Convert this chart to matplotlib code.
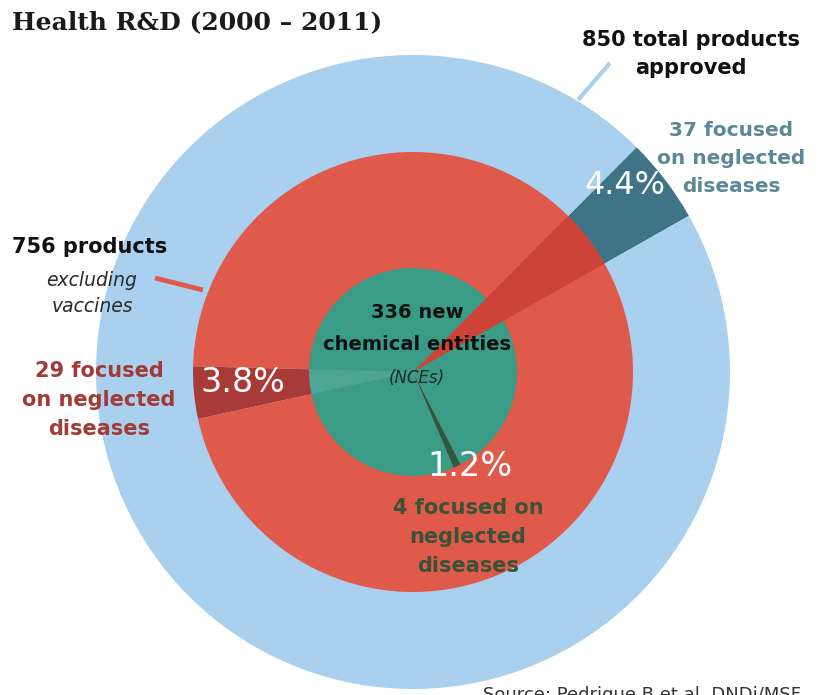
import matplotlib.pyplot as plt
from matplotlib.patches import Wedge

# data
ring_names = ["total products approved", "products excluding vaccines", "new chemical entities"]
totals = [850, 756, 336]
neglected = [37, 29, 4]

# where each "neglected" slice starts (degrees, counterclockwise from 3 o'clock)
start_angles = [29.5, 178.5, 293.0]
radii = [317, 220, 104]
base_colors = ["#a9d0ef", "#e05a4b", "#3a9b86"]
slice_colors = ["#3e7486", "#a83a37", "#2c5a40"]

W, H = 839, 695
fig = plt.figure(figsize=(W / 100, H / 100), dpi=100)
ax = fig.add_axes([0, 0, 1, 1])

cx, cy = 413, H - 372  # centre of the rings, pixel coords with y up

for tot, neg, r, st, c0, c1 in zip(totals, neglected, radii, start_angles, base_colors, slice_colors):
    ax.pie([neg, tot - neg], radius=r, center=(cx, cy), startangle=st,
           colors=[c1, c0], wedgeprops=dict(linewidth=0), frame=True)
    # the outer 4.4% sector also darkens the red disc behind it
    if r == radii[0]:
        th2 = st + 360.0 * neg / tot
        ax.add_patch(Wedge((cx, cy), radii[1], st, th2, color="#cd4337", lw=0, zorder=3))

# faint lighter streak of the 3.8% sector through the green disc
th_a = start_angles[1]
th_b = th_a + 360.0 * neglected[1] / totals[1]
ax.add_patch(Wedge((cx, cy), radii[2], th_a, th_b, color="white", alpha=0.10, lw=0, zorder=4))

ax.set_xlim(0, W)
ax.set_ylim(0, H)
ax.set_aspect("equal")
ax.axis("off")


def Y(y):
    return H - y


pct = ["{:.1f}%".format(100.0 * n / t) for n, t in zip(neglected, totals)]

# title
ax.text(12, Y(22), "Health R&D (2000 \u2013 2011)", family="DejaVu Serif", weight="heavy",
        fontsize=18, ha="left", va="center", color="#1a1a1a", zorder=10)

# outer ring labels
ax.text(691, Y(54), "850 total products\napproved", weight="bold", fontsize=15,
        ha="center", va="center", linespacing=1.45, color="#111111", zorder=10)
ax.plot([578, 610], [Y(100), Y(63)], color=base_colors[0], lw=3, solid_capstyle="butt", zorder=2)
ax.text(731, Y(159), "37 focused\non neglected\ndiseases", weight="bold", fontsize=14.5,
        ha="center", va="center", linespacing=1.6, color="#5b8896", zorder=10)
ax.text(625, Y(185), pct[0], fontsize=23, ha="center", va="center", color="white", zorder=10)

# middle ring labels
ax.text(90, Y(247), "756 products", weight="bold", fontsize=15,
        ha="center", va="center", color="#111111", zorder=10)
ax.text(92, Y(280), "excluding", style="italic", fontsize=13.5,
        ha="center", va="center", color="#2a2a2a", zorder=10)
ax.text(92, Y(307), "vaccines", style="italic", fontsize=13.5,
        ha="center", va="center", color="#2a2a2a", zorder=10)
ax.plot([155, 203], [Y(278), Y(290)], color=base_colors[1], lw=3.5, solid_capstyle="butt", zorder=2)
ax.text(99, Y(400), "29 focused\non neglected\ndiseases", weight="bold", fontsize=15,
        ha="center", va="center", linespacing=1.55, color="#a23b36", zorder=10)
ax.text(243, Y(383), pct[1], fontsize=24, ha="center", va="center", color="white", zorder=10)

# inner disc labels
ax.text(417, Y(313), "336 new", weight="bold", fontsize=14,
        ha="center", va="center", color="#111111", zorder=10)
ax.text(417, Y(345), "chemical entities", weight="bold", fontsize=14,
        ha="center", va="center", color="#111111", zorder=10)
ax.text(417, Y(378), "(NCEs)", style="italic", fontsize=12,
        ha="center", va="center", color="#1a2a24", zorder=10)
ax.text(470, Y(466), pct[2], fontsize=24, ha="center", va="center", color="white", zorder=10)
ax.text(468, Y(537), "4 focused on\nneglected\ndiseases", weight="bold", fontsize=15,
        ha="center", va="center", linespacing=1.55, color="#3a5236", zorder=10)

# source line, clipped by the bottom edge as in the original
ax.text(483, Y(695), "Source: Pedrique B et al. DNDi/MSF", fontsize=13,
        ha="left", va="center", color="#333333", zorder=10)

fig.savefig("out.png", dpi=100)
